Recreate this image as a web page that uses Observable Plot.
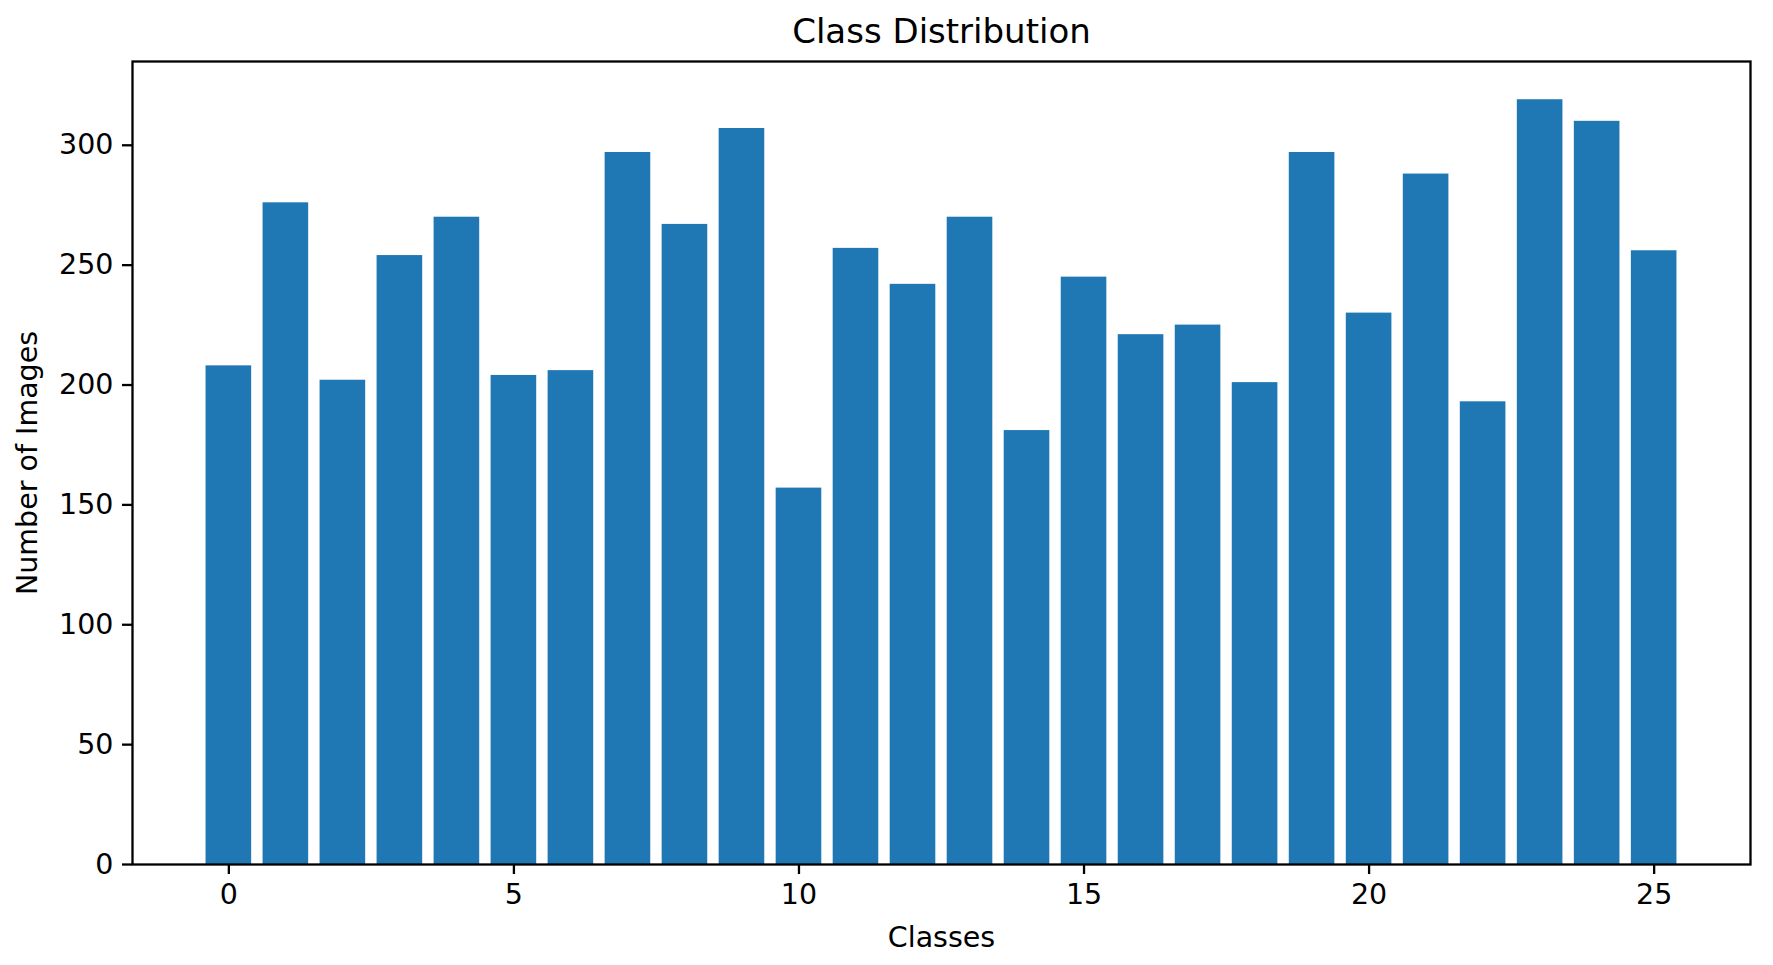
<!DOCTYPE html>
<html><head><meta charset="utf-8">
<script src="https://cdn.jsdelivr.net/npm/d3@7"></script>
<script src="https://cdn.jsdelivr.net/npm/@observablehq/plot@0.6"></script>
<style>html,body{margin:0;padding:0;background:#fff;} #chart svg{display:block;}</style>
</head><body><div id="chart"></div>
<script>
const classes = [0,1,2,3,4,5,6,7,8,9,10,11,12,13,14,15,16,17,18,19,20,21,22,23,24,25];
const counts = [208,276,202,254,270,204,206,297,267,307,157,257,242,270,181,245,221,225,201,297,230,288,193,319,310,256];
const xTicks = [0,5,10,15,20,25];
const yTicks = [0,50,100,150,200,250,300];
const titleText = "Class Distribution";
const xLabel = "Classes";
const yLabel = "Number of Images";
const barWidth = 0.8;
const barColor = "#1f77b4";

const data = classes.map((c, i) => ({cls: c, count: counts[i]}));
const lo = d3.min(classes) - barWidth / 2, hi = d3.max(classes) + barWidth / 2;
const pad = 0.05 * (hi - lo);
const maxCount = d3.max(counts);

const chart = Plot.plot({
  width: 1773, height: 965,
  marginLeft: 132, marginRight: 23, marginTop: 61, marginBottom: 101,
  style: {fontFamily: "DejaVu Sans", color: "#000", background: "#fff"},
  x: {type: "linear", domain: [lo - pad, hi + pad]},
  y: {domain: [0, maxCount * 1.05]},
  marks: [
    Plot.rect(data, {x1: d => d.cls - barWidth / 2, x2: d => d.cls + barWidth / 2, y1: 0, y2: "count", fill: barColor}),
    Plot.frame({stroke: "#000", strokeWidth: 2.3}),
    Plot.axisX({ticks: xTicks, tickSize: 10, tickPadding: 9, fontSize: 28.5, strokeWidth: 2.3, label: null, tickFormat: d => String(d)}),
    Plot.axisY({ticks: yTicks, tickSize: 10, tickPadding: 9, fontSize: 28.5, strokeWidth: 2.3, label: null, tickFormat: d => String(d)}),
    Plot.text([titleText], {frameAnchor: "top", dy: -29, fontSize: 34, lineAnchor: "middle", fill: "#000"}),
    Plot.text([xLabel], {frameAnchor: "bottom", dy: 73, fontSize: 28.5, lineAnchor: "middle", fill: "#000"}),
    Plot.text([yLabel], {frameAnchor: "left", dx: -105, rotate: -90, fontSize: 28.5, textAnchor: "middle", lineAnchor: "middle", fill: "#000"})
  ]
});
document.getElementById("chart").appendChild(chart);
</script>
</body></html>
